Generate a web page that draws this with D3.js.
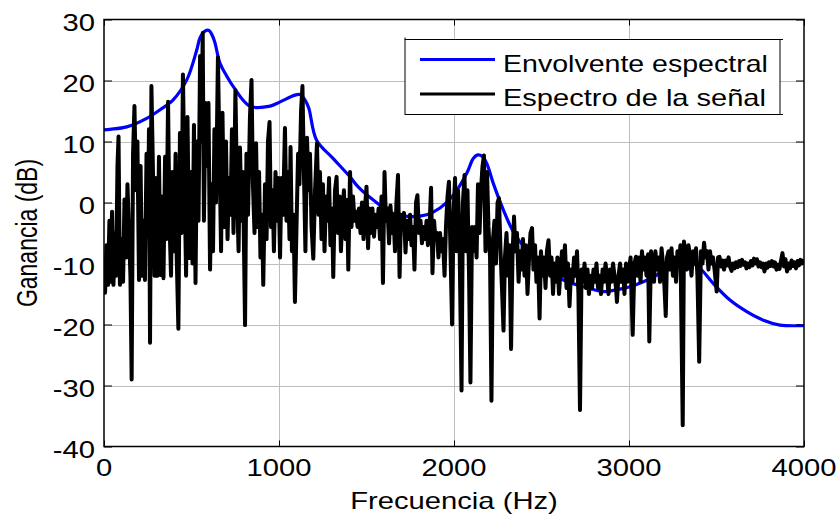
<!DOCTYPE html>
<html>
<head>
<meta charset="utf-8">
<script src="https://cdn.jsdelivr.net/npm/d3@7"></script>
<style>
  body { margin: 0; background: #fff; }
  svg { display: block; }
  text { font-family: "Liberation Sans", Arial, Helvetica, sans-serif; fill: #000; }
</style>
</head>
<body>
<svg id="chart" width="839" height="514"></svg>
<script>
// Axis ticks
const xTicks = [0, 1000, 2000, 3000, 4000];
const yTicks = [-40, -30, -20, -10, 0, 10, 20, 30];

// Spectral envelope: frequency (Hz) and gain (dB)
const envHz = [0, 34, 130, 244, 320, 394, 473, 530, 549, 577, 600, 615, 632, 663, 700, 739, 834, 949, 1006, 1091, 1120, 1149, 1170, 1215, 1310, 1406, 1451, 1539, 1653, 1749, 1844, 1920, 1996, 2073, 2110, 2135, 2160, 2187, 2225, 2282, 2339, 2415, 2510, 2625, 2739, 2853, 2910, 3006, 3082, 3158, 3253, 3300, 3330, 3406, 3482, 3577, 3673, 3768, 3863, 3977, 4000];
const envDb = [11.9, 12.0, 12.4, 13.8, 15.2, 16.8, 20.1, 25.0, 27.0, 28.1, 28.2, 27.6, 26.4, 22.8, 20.8, 19.0, 15.8, 15.8, 16.5, 17.6, 17.7, 16.8, 15.5, 10.2, 7.2, 4.2, 2.6, 0.4, -1.8, -2.3, -2.0, -0.9, 1.2, 4.8, 7.2, 7.8, 7.6, 6.4, 3.1, -1.2, -4.8, -7.8, -10.5, -12.7, -13.8, -14.6, -14.4, -13.8, -13.0, -11.9, -9.9, -9.4, -9.4, -10.8, -13.3, -16.0, -17.9, -19.3, -20.1, -20.2, -20.2];

// Signal spectrum: [frequency (Hz), gain (dB)]
const spectrumLow = [
  [0,-12],[6,-14.8],[14,-7],[23,-13.5],[31,-3],[37,-13],[46,-1.5],[54,-13.5],[63,-5],[69,-12],
  [77,6],[83,10.8],[91,-13.5],[100,-6],[109,-13],[117,0.5],[126,-9],[134,3],[143,-5],[151,-12],
  [158,-29],[166,8],[174,15.8],[183,2],[191,10],[200,-12.7],[209,6],[217,-12],[226,-3],[234,-12.7],
  [243,8],[251,-5],[257,12],[263,-23],[271,19.1],[280,5],[289,-12],[297,4],[306,-12],[314,7.5],
  [323,-11.9],[331,1],[340,-12.4],[349,7.5],[357,-6],[366,16.5],[374,-3],[383,-12],[391,5],[400,-8],
  [409,8],[414,-7],[425,-20.7],[434,11.4],[443,-5],[451,21],[460,4],[469,-12],[477,14],[487,-9.1],
  [497,5],[506,-10],[514,12.7],[523,-13.2],[531,10],[540,-3],[549,24],[557,10],[564,27.8],[571,-3],
  [580,16.3],[589,6],[597,16.3],[606,-11],[614,3],[623,-8],[631,12],[640,0],[651,23.8],[660,8],
  [669,-8],[677,14.7],[686,-4],[697,10],[706,-6],[714,4],[723,-2],[731,12],[740,-5],[751,18.4],
  [760,2],[769,-8],[777,9],[786,-3],[794,5],[806,-20.1],[814,8],[823,-2],[834,14],[843,20.1],
  [851,3],[860,-5],[869,9.7],[877,-4],[886,5],[894,-9],[903,-2],[910,-13.5],[920,3],[929,-6],
  [937,10],[946,13.2],[954,-4],[963,2],[971,-8],[980,5],[989,-3],[997,4],[1006,-9],[1014,4],
  [1023,-2],[1034,12.2],[1043,-3],[1051,5],[1060,-6],[1066,9.1],[1074,-8],[1083,-2],[1091,-16.3],[1100,-4],
  [1109,8],[1117,3],[1126,15],[1134,19.1],[1143,4],[1151,-8],[1160,10.6],[1169,2],[1177,8],[1186,-4],
  [1196,-9.2]
];
const spectrumMid = [
  [1206,2],[1217,9.7],[1226,-2],[1234,5],[1243,-6],[1251,3],[1260,-8],[1269,1],[1277,-3],[1286,4],
  [1294,-7],[1303,-1],[1310,-12.2],[1320,2],[1329,4.2],[1337,-5],[1346,1],[1354,-8],[1363,-1],[1371,2],
  [1380,-6],[1389,0.4],[1396,-11],[1406,5],[1414,-4],[1423,1],[1431,-3],[1440,-1.5],[1449,-4],[1457,-1],
  [1466,-5],[1474,0],[1483,-6],[1491,-1],[1500,2.6],[1509,-7.5],[1517,-1],[1526,-5],[1534,-1],[1543,-5.6],
  [1551,-2],[1560,-4],[1569,-1],[1577,-6],[1586,1],[1594,-13.2],[1603,5],[1611,-3],[1620,-1],[1629,-6.7],
  [1637,-0.5],[1646,-5],[1654,-2],[1663,-8],[1671,0],[1680,4.5],[1689,-12.2],[1697,-2],[1706,-4],[1714,-1.7],
  [1723,-8.2],[1731,-3],[1740,-6],[1749,-2],[1757,-7],[1766,-4],[1774,-11],[1783,0],[1791,1.2],[1800,-5],
  [1809,-3],[1817,-6.7],[1826,-4],[1834,-6],[1843,-3],[1851,-7],[1860,-4],[1869,2.4],[1877,-11.6],[1886,-3],
  [1894,-6],[1903,-5],[1911,-9],[1920,-5],[1929,-8],[1937,-6],[1946,-12],[1954,-4],[1963,1],[1971,3.4],
  [1980,-8],[1989,-20],[1997,-2]
];
const spectrumFormant = [
  [2006,4],[2014,-8],[2023,2],[2031,-5],[2043,-30.8],[2051,0],[2060,4.5],[2069,-8],[2077,2],[2086,-12],
  [2094,-29.5],[2103,-4],[2111,-8],[2120,-4],[2129,-9],[2137,3],[2146,-5],[2154,2],[2163,6],[2171,7.7],
  [2180,-8],[2189,5],[2197,-4],[2206,-9],[2214,-32.5],[2223,-6],[2231,-3],[2240,-10],[2249,0],[2257,0.7],
  [2266,-8],[2274,-14],[2283,-21],[2291,-9],[2300,-5],[2309,-12],[2317,-7],[2326,-24],[2334,-9],[2343,-2.3],
  [2351,-8],[2360,-5],[2369,-13],[2377,-8],[2386,-11],[2394,-6],[2403,-12],[2411,-7],[2420,-15],[2429,-9],
  [2437,-5],[2446,-4.2],[2454,-11],[2463,-7],[2471,-13],[2480,-9],[2489,-19],[2497,-8],[2506,-12],[2514,-9],
  [2523,-14],[2531,-8],[2540,-6.2],[2549,-12],[2557,-9],[2566,-15],[2574,-10],[2583,-13],[2591,-9],[2600,-15],
  [2609,-11],[2617,-8],[2626,-12],[2634,-7],[2643,-14],[2651,-10],[2660,-17],[2669,-11],[2677,-13],[2686,-9],
  [2694,-12],[2703,-8],[2711,-15],[2720,-34],[2729,-11],[2737,-13],[2746,-10],[2754,-14],[2763,-11],[2771,-15],
  [2780,-12],[2789,-14],[2797,-11],[2806,-13],[2814,-10],[2823,-14],[2831,-12],[2840,-15],[2849,-11],[2857,-13],
  [2866,-10],[2874,-12],[2883,-15],[2891,-11],[2900,-13],[2909,-10],[2917,-12],[2926,-14],[2931,-16.3],[2940,-12],
  [2949,-10],[2957,-13],[2966,-11],[2974,-15],[2983,-10],[2991,-13],[3000,-11]
];
const spectrumHigh = [
  [3009,-9],[3021,-21.7],[3031,-10],[3040,-8.9],[3049,-12],[3057,-9],[3066,-13],[3074,-8],[3083,-11],[3091,-9],
  [3100,-12],[3109,-8.5],[3116,-22.8],[3126,-8],[3134,-10],[3143,-13],[3151,-8],[3160,-11],[3169,-9],[3177,-13],
  [3186,-7.5],[3194,-10],[3203,-14],[3210,-18.6],[3217,-9],[3226,-8],[3234,-11],[3243,-7.5],[3251,-12],[3260,-9],
  [3269,-13],[3277,-8],[3286,-10],[3294,-7],[3307,-36.5],[3314,-6.4],[3323,-8],[3331,-11],[3340,-7],[3349,-9],
  [3357,-12],[3366,-8],[3374,-10],[3383,-7.5],[3391,-12],[3401,-26.1],[3411,-8],[3420,-10],[3429,-6.6],[3437,-9],
  [3446,-8],[3454,-11],[3463,-8],[3471,-10],[3480,-9],[3489,-11],[3501,-14.6],[3509,-9],[3517,-8.9],[3526,-10.5],
  [3534,-9.5],[3543,-11],[3551,-9.5],[3560,-10.3],[3569,-9],[3577,-10.5],[3586,-11.2],[3594,-10],[3603,-10.8],[3611,-9.8],
  [3620,-10.6],[3629,-9.6],[3637,-10.4],[3646,-9.4],[3654,-10.2],[3663,-9.8],[3671,-10.8],[3680,-10],[3689,-10.6],[3697,-9.6],
  [3706,-10.3],[3714,-9.2],[3723,-10],[3731,-9.3],[3740,-10.5],[3749,-9.8],[3757,-10.6],[3766,-10],[3774,-11.3],[3783,-10],
  [3791,-10.7],[3800,-9.8],[3809,-10.4],[3817,-9.6],[3826,-10.5],[3834,-9.8],[3843,-11],[3851,-10.2],[3860,-10.9],[3869,-9.5],
  [3877,-8.3],[3886,-10.5],[3894,-9.3],[3903,-11.3],[3911,-10],[3920,-10.8],[3929,-9.5],[3937,-10.4],[3946,-9.8],[3954,-10.8],
  [3963,-9.6],[3971,-10.3],[3980,-9.4],[3989,-10],[4000,-9.3]
];

const seriesNames = ["Envolvente espectral", "Espectro de la señal"];
const seriesColors = ["#0000ff", "#000000"];
const xLabel = "Frecuencia (Hz)";
const yLabel = "Ganancia (dB)";

const spectrum = spectrumLow.concat(spectrumMid, spectrumFormant, spectrumHigh);

const svg = d3.select("#chart");
const plot = { left: 104, right: 804, top: 19.5, bottom: 446.5 };
const x = d3.scaleLinear().domain([0, 4000]).range([plot.left, plot.right]);
const y = d3.scaleLinear().domain([-40, 30]).range([plot.bottom, plot.top]);

const fontSize = 23;
const stretch = 1.27;

svg.append("rect").attr("width", 839).attr("height", 514).attr("fill", "#fff");

// Grid
const grid = svg.append("g").attr("stroke", "#bdbdbd").attr("stroke-width", 1);
grid.selectAll("line.gx").data(xTicks.slice(1, -1)).join("line")
  .attr("x1", d => Math.round(x(d)) + 0.5).attr("x2", d => Math.round(x(d)) + 0.5)
  .attr("y1", plot.top).attr("y2", plot.bottom);
grid.selectAll("line.gy").data(yTicks.slice(1, -1)).join("line")
  .attr("y1", d => Math.round(y(d)) + 0.5).attr("y2", d => Math.round(y(d)) + 0.5)
  .attr("x1", plot.left).attr("x2", plot.right);

// Clip region for the data lines
svg.append("clipPath").attr("id", "plotClip").append("rect")
  .attr("x", plot.left).attr("y", plot.top - 2)
  .attr("width", plot.right - plot.left).attr("height", plot.bottom - plot.top + 4);

const lines = svg.append("g").attr("clip-path", "url(#plotClip)");

const envLine = d3.line()
  .x((d, i) => x(envHz[i])).y(d => y(d))
  .curve(d3.curveCatmullRom.alpha(0.5));
lines.append("path").datum(envDb)
  .attr("d", envLine).attr("fill", "none")
  .attr("stroke", seriesColors[0]).attr("stroke-width", 3.2)
  .attr("stroke-linejoin", "round");

const specLine = d3.line()
  .x(d => x(d[0])).y(d => y(d[1]));
lines.append("path").datum(spectrum)
  .attr("d", specLine).attr("fill", "none")
  .attr("stroke", seriesColors[1]).attr("stroke-width", 4)
  .attr("stroke-linejoin", "round");

// Axes with inward ticks on all four sides
const axes = svg.append("g");
axes.append("g").attr("transform", `translate(0,${plot.bottom})`)
  .call(d3.axisBottom(x).tickValues(xTicks).tickSizeInner(-6).tickSizeOuter(0).tickFormat(""));
axes.append("g").attr("transform", `translate(0,${plot.top})`)
  .call(d3.axisTop(x).tickValues(xTicks).tickSizeInner(-6).tickSizeOuter(0).tickFormat(""));
axes.append("g").attr("transform", `translate(${plot.left},0)`)
  .call(d3.axisLeft(y).tickValues(yTicks).tickSizeInner(-8).tickSizeOuter(0).tickFormat(""));
axes.append("g").attr("transform", `translate(${plot.right},0)`)
  .call(d3.axisRight(y).tickValues(yTicks).tickSizeInner(-8).tickSizeOuter(0).tickFormat(""));
axes.selectAll(".domain").remove();
axes.selectAll(".tick line").attr("stroke", "#000").attr("stroke-width", 1);
svg.append("rect")
  .attr("x", plot.left).attr("y", plot.top)
  .attr("width", plot.right - plot.left).attr("height", plot.bottom - plot.top)
  .attr("fill", "none").attr("stroke", "#000").attr("stroke-width", 1.5);

// Text drawn with a horizontal stretch, as in the exported figure
function stretchedText(parent, str, tx, ty, anchor, size, extra) {
  return parent.append("text")
    .attr("transform", `translate(${tx},${ty}) scale(${stretch},1)` + (extra || ""))
    .attr("text-anchor", anchor)
    .attr("font-size", size)
    .text(str);
}
const labels = svg.append("g");
xTicks.forEach(t => stretchedText(labels, String(t), x(t), 476, "middle", fontSize));
yTicks.forEach(t => stretchedText(labels, String(t), 95, y(t) + 11, "end", fontSize));

// Axis titles
stretchedText(labels, xLabel, (plot.left + plot.right) / 2, 509, "middle", fontSize);
stretchedText(labels, yLabel, 37, (plot.top + plot.bottom) / 2, "middle", fontSize, " rotate(-90)");

// Legend
const legend = svg.append("g");
const lg = { x: 405, y: 39.5, w: 375, h: 75 };
legend.append("rect").attr("x", lg.x).attr("y", lg.y).attr("width", lg.w).attr("height", lg.h)
  .attr("fill", "#fff").attr("stroke", "#000").attr("stroke-width", 1);
legend.append("line").attr("x1", lg.x + lg.w).attr("x2", lg.x + lg.w + 3).attr("y1", lg.y).attr("y2", lg.y).attr("stroke", "#000");
legend.append("line").attr("x1", lg.x + lg.w).attr("x2", lg.x + lg.w + 3).attr("y1", lg.y + lg.h).attr("y2", lg.y + lg.h).attr("stroke", "#000");
legend.append("line").attr("x1", lg.x).attr("x2", lg.x).attr("y1", lg.y).attr("y2", lg.y - 2).attr("stroke", "#000");
const rowY = [59.5, 94];
const rowBase = [71.7, 106];
seriesNames.forEach((name, i) => {
  legend.append("line")
    .attr("x1", 420).attr("x2", 495).attr("y1", rowY[i]).attr("y2", rowY[i])
    .attr("stroke", seriesColors[i]).attr("stroke-width", 3);
  const t = legend.append("text")
    .attr("font-size", 24)
    .attr("text-anchor", "start")
    .text(name);
  const w = t.node().getComputedTextLength();
  const sx = (i === 0 ? 265 : 263) / w;
  t.attr("transform", `translate(503,${rowBase[i]}) scale(${sx},1)`);
});
</script>
</body>
</html>
